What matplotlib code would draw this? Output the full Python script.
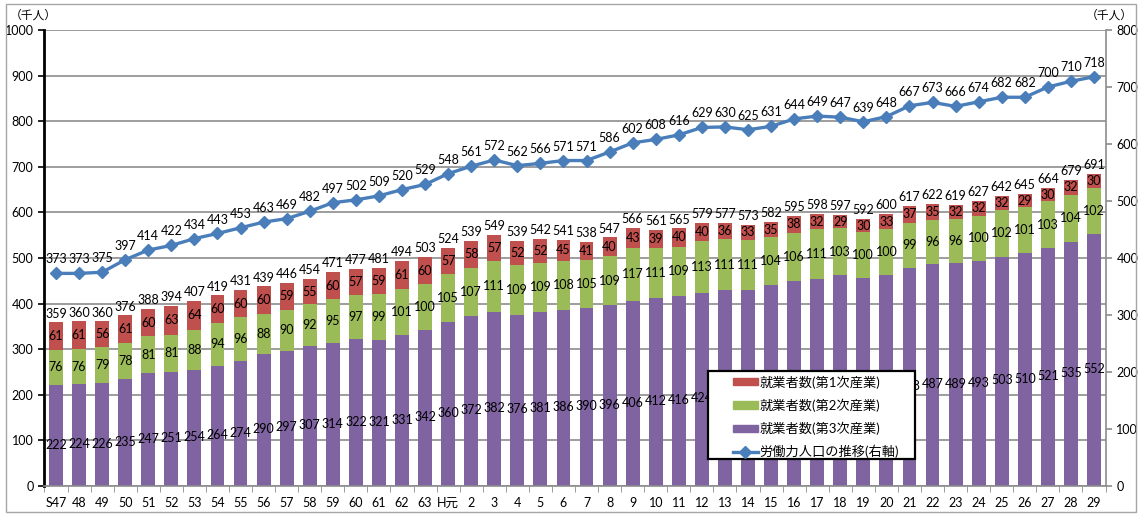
import matplotlib
matplotlib.use("Agg")
import matplotlib.pyplot as plt
from matplotlib.patches import Rectangle
from matplotlib.lines import Line2D
import numpy as np

plt.rcParams['font.family'] = ['Lato', 'Noto Sans CJK JP', 'DejaVu Sans']

# --- data ---
years = ["S47", "48", "49", "50", "51", "52", "53", "54", "55", "56", "57", "58",
         "59", "60", "61", "62", "63", "H元"] + [str(y) for y in range(2, 30)]

primary = [61, 61, 56, 61, 60, 63, 64, 60, 60, 60, 59, 55, 60, 57, 59, 61, 60,
           57, 58, 57, 52, 52, 45, 41, 40, 43, 39, 40, 40, 36, 33, 35, 38, 32,
           29, 30, 33, 37, 35, 32, 32, 32, 29, 30, 32, 30]
secondary = [76, 76, 79, 78, 81, 81, 88, 94, 96, 88, 90, 92, 95, 97, 99, 101, 100,
             105, 107, 111, 109, 109, 108, 105, 109, 117, 111, 109, 113, 111, 111,
             104, 106, 111, 103, 100, 100, 99, 96, 96, 100, 102, 101, 103, 104, 102]
tertiary = [222, 224, 226, 235, 247, 251, 254, 264, 274, 290, 297, 307, 314, 322,
            321, 331, 342, 360, 372, 382, 376, 381, 386, 390, 396, 406, 412, 416,
            424, 430, 429, 441, 449, 453, 462, 456, 463, 478, 487, 489, 493, 503,
            510, 521, 535, 552]
totals = [359, 360, 360, 376, 388, 394, 407, 419, 431, 439, 446, 454, 471, 477,
          481, 494, 503, 524, 539, 549, 539, 542, 541, 538, 547, 566, 561, 565,
          579, 577, 573, 582, 595, 598, 597, 592, 600, 617, 622, 619, 627, 642,
          645, 664, 679, 691]
labor_force = [373, 373, 375, 397, 414, 422, 434, 443, 453, 463, 469, 482, 497,
               502, 509, 520, 529, 548, 561, 572, 562, 566, 571, 571, 586, 602,
               608, 616, 629, 630, 625, 631, 644, 649, 647, 639, 648, 667, 673,
               666, 674, 682, 682, 700, 710, 718]

series_names = ["就業者数(第1次産業)", "就業者数(第2次産業)",
                "就業者数(第3次産業)", "労働力人口の推移(右軸)"]

# tertiary labels sitting behind the legend box (H13..H20) are not shown
hidden = set(range(years.index("13"), years.index("21")))

c_red = "#C0504D"
c_green = "#9BBB59"
c_purple = "#8064A2"
c_blue = "#4A7EBB"

x = np.arange(len(years))
p1 = np.array(primary)
p2 = np.array(secondary)
p3 = np.array(tertiary)

fig = plt.figure(figsize=(11.39, 5.15), dpi=100)
ax = fig.add_axes([44 / 1139, 1 - 486 / 515, (1106 - 44) / 1139, (486 - 30) / 515])

w = 0.6
ax.bar(x, p3, w, color=c_purple, zorder=2)
ax.bar(x, p2, w, bottom=p3, color=c_green, zorder=2)
ax.bar(x, p1, w, bottom=p3 + p2, color=c_red, zorder=2)

fs = 9
for i in x:
    if i not in hidden:
        ax.text(i, p3[i] / 2 - 20, str(p3[i]), ha="center", va="center", fontsize=fs, zorder=3)
    ax.text(i, p3[i] + p2[i] / 2, str(p2[i]), ha="center", va="center", fontsize=fs, zorder=3)
    ax.text(i, p3[i] + p2[i] + p1[i] / 2, str(p1[i]), ha="center", va="center", fontsize=fs, zorder=3)
    ax.text(i, p3[i] + p2[i] + p1[i] + 6, str(totals[i]), ha="center", va="bottom", fontsize=fs, zorder=3)

ax.set_xlim(-0.52, len(years) - 0.48)
ax.set_ylim(0, 1000)
ax.set_yticks(range(0, 1001, 100))
ax.yaxis.grid(True, color="#8c8c8c", linewidth=1.2, zorder=0)
ax.set_axisbelow(True)
ax.set_xticks(x)
ax.set_xticklabels(years, fontsize=fs)
ax.set_xticks(np.arange(-0.5, len(years), 1), minor=True)
ax.tick_params(axis="x", which="major", length=0, pad=8)
ax.tick_params(axis="x", which="minor", length=4, color="#8c8c8c")
ax.tick_params(axis="y", labelsize=fs, length=4, width=1.2)
for s in ["top", "right"]:
    ax.spines[s].set_visible(False)
ax.spines["left"].set_linewidth(2)
ax.spines["bottom"].set_color("#8c8c8c")
ax.spines["bottom"].set_linewidth(1.2)

ax2 = ax.twinx()
ax2.set_ylim(0, 800)
ax2.set_yticks(range(0, 801, 100))
ax2.plot(x, labor_force, color=c_blue, linewidth=2.4, marker="D",
         markersize=6, zorder=4)
for i in x:
    ax2.text(i, labor_force[i] + 14, str(labor_force[i]), ha="center",
             va="bottom", fontsize=fs)
for s in ["top", "left", "bottom"]:
    ax2.spines[s].set_visible(False)
ax2.spines["right"].set_color("#8c8c8c")
ax2.spines["right"].set_linewidth(1.2)
ax2.tick_params(axis="y", labelsize=fs, length=4, color="#8c8c8c", width=1.2)

# legend: box drawn by hand, Excel style padding
box = Rectangle((0.6252, 0.0592), 0.1949, 0.193, transform=ax2.transAxes,
                facecolor="white", edgecolor="black", linewidth=1.6, zorder=9)
ax2.add_patch(box)
handles = [Rectangle((0, 0), 1, 1, color=c_red),
           Rectangle((0, 0), 1, 1, color=c_green),
           Rectangle((0, 0), 1, 1, color=c_purple),
           Line2D([], [], color=c_blue, linewidth=2.4, marker="D", markersize=6)]
leg = ax2.legend(handles, series_names, loc="upper left",
                 bbox_to_anchor=(0.649, 0.243), fontsize=9.5, frameon=False,
                 borderpad=0, borderaxespad=0, handlelength=1.85,
                 handleheight=0.45, handletextpad=0.15, labelspacing=0.75)
leg.set_zorder(10)

fig.text(10 / 1139, 1 - 15 / 515, "（千人）", fontsize=8.5, va="center", ha="left")
fig.text(1133 / 1139, 1 - 15 / 515, "（千人）", fontsize=8.5, va="center", ha="right")

fig.patches.append(Rectangle((6 / 1139, 3 / 515), 1130 / 1139, 508 / 515,
                             transform=fig.transFigure, fill=False,
                             edgecolor="#a6a6a6", linewidth=1))

fig.savefig("out.png", dpi=100)
